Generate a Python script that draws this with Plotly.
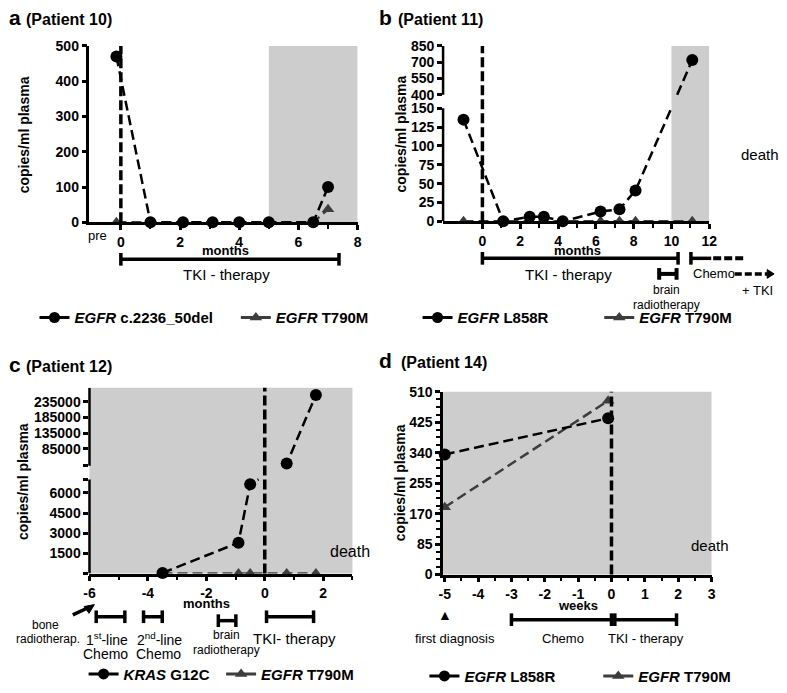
import plotly.graph_objects as go

W, H = 787, 693
FONT = "Liberation Sans, Arial, Helvetica, sans-serif"
GRAY_BG = "#cdcdcd"
SERIES2 = "#3d3d3d"

# ---------------- data ----------------
a_months = [-0.15, 1, 2.1, 3.1, 4, 5, 6.5, 7]
a_del = [470, 0, 0, 0, 0, 0, 0, 100]
a_t790m = [0, 0, 0, 0, 0, 0, 0, 37]

b_months = [-1, 1.1, 2.5, 3.25, 4.25, 6.25, 7.25, 8.1, 11.1]
b_l858r = [135, 0, 6, 6, 0, 13, 16, 41, 720]
b_t790m = [0, 0, 0, 0, 0, 0, 0, 0, 0]

c_months = [-3.5, -0.9, -0.5, 0.75, 1.75]
c_kras = [50, 2300, 6650, 37000, 257000]
c_t790m = [0, 0, 0, 0, 0]

d_weeks = [-5, -0.1]
d_l858r = [335, 436]
d_t790m = [188, 485]

a_xticks = [0, 2, 4, 6, 8]
b_xticks = [0, 2, 4, 6, 8, 10, 12]
c_xticks = [-6, -4, -2, 0, 2]
d_xticks = [-5, -4, -3, -2, -1, 0, 1, 2, 3]
a_yticks = [0, 100, 200, 300, 400, 500]
b_yticks_low = [0, 25, 50, 75, 100, 125, 150]
b_yticks_high = [400, 550, 700, 850]
c_yticks_low = [1500, 3000, 4500, 6000]
c_yticks_high = [85000, 135000, 185000, 235000]
d_yticks = [0, 85, 170, 255, 340, 425, 510]

# treatment periods
a_tki = (0, 7.37)
b_tki = (0, 10.35)
b_brain = (9.35, 10.27)
b_chemo_start = 11.03
c_chemo1 = (-5.77, -4.79)
c_chemo2 = (-4.15, -3.51)
c_brain = (-1.59, -0.99)
c_tki = (0.06, 1.67)
d_chemo = (-3, 0)
d_tki = (0.1, 1.95)

# ---------------- geometry ----------------
PANEL = {
    'a': dict(ax='', x0=85, x1=358, y0=39, y1=220, xr=(-1.06, 8)),
    'b': dict(ax='2', x0=445, x1=716, y0=39, y1=219, xr=(-2.08, 12)),
    'c': dict(ax='3', x0=85, x1=352.7, y0=390, y1=580.7, xr=(-6, 3)),
    'd': dict(ax='4', x0=445, x1=718.3, y0=394, y1=581.7, xr=(-5.05, 3)),
}


def xpx(p, v):
    g = PANEL[p]
    return g['x0'] + (v - g['xr'][0]) / (g['xr'][1] - g['xr'][0]) * (g['x1'] - g['x0'])


def brk(v, lo, hi, f_lo, f_hi):
    if v <= lo[1]:
        return f_lo * (v - lo[0]) / (lo[1] - lo[0])
    return f_hi + (1 - f_hi) * (v - hi[0]) / (hi[1] - hi[0])


def split_gap(xs, ds, f_lo, f_hi):
    """Break a polyline where it crosses the axis break."""
    ox, oy = [xs[0]], [ds[0]]
    for i in range(1, len(xs)):
        x0, y0, x1, y1 = xs[i - 1], ds[i - 1], xs[i], ds[i]
        if (y0 <= f_lo and y1 >= f_hi) or (y0 >= f_hi and y1 <= f_lo):
            a, b = (f_lo, f_hi) if y1 > y0 else (f_hi, f_lo)
            ox += [x0 + (a - y0) * (x1 - x0) / (y1 - y0), None,
                   x0 + (b - y0) * (x1 - x0) / (y1 - y0)]
            oy += [a, None, b]
        ox.append(x1)
        oy.append(y1)
    return ox, oy


B_BRK = dict(lo=(0, 150), hi=(400, 850), f_lo=116 / 180, f_hi=130 / 180)
C_BRK = dict(lo=(0, 7000), hi=(30000, 280000), f_lo=96.7 / 190.7, f_hi=110.7 / 190.7)

fig = go.Figure()

LINE1 = dict(color='black', width=2.5, dash='10px,5px')
LINE2 = dict(color=SERIES2, width=2.5, dash='10px,5px')
MK1 = dict(symbol='circle', size=12, color='black')
MK2 = dict(symbol='triangle-up', size=11, color=SERIES2)


def add_series(xs, ys, ax, line, mk, brkd=None):
    lx, ly = (xs, ys) if brkd is None else split_gap(xs, ys, brkd['f_lo'], brkd['f_hi'])
    fig.add_trace(go.Scatter(x=lx, y=ly, mode='lines', line=line, connectgaps=False,
                             xaxis='x' + ax, yaxis='y' + ax, showlegend=False,
                             cliponaxis=False, hoverinfo='skip'))
    fig.add_trace(go.Scatter(x=xs, y=ys, mode='markers', marker=mk,
                             xaxis='x' + ax, yaxis='y' + ax, showlegend=False,
                             cliponaxis=False, hoverinfo='skip'))


add_series(a_months, a_t790m, '', LINE2, MK2)
add_series(a_months, a_del, '', LINE1, MK1)
add_series(b_months, [brk(v, **B_BRK) for v in b_t790m], '2', LINE2, MK2, B_BRK)
add_series(b_months, [brk(v, **B_BRK) for v in b_l858r], '2', LINE1, MK1, B_BRK)
add_series(c_months, [brk(v, **C_BRK) for v in c_t790m], '3', LINE2, MK2, C_BRK)
add_series(c_months, [brk(v, **C_BRK) for v in c_kras], '3', LINE1, MK1, C_BRK)
add_series(d_weeks, d_t790m, '4', LINE2, MK2)
add_series(d_weeks, d_l858r, '4', LINE1, MK1)

# legends (one per entry)
legend_specs = [
    ('legend', 73, 318, '<i>EGFR</i> c.2236_50del', 'circle', 'black', ''),
    ('legend2', 278, 318, '<i>EGFR</i> T790M', 'triangle-up', SERIES2, ''),
    ('legend3', 463, 318, '<i>EGFR</i> L858R', 'circle', 'black', '2'),
    ('legend4', 648, 318, '<i>EGFR</i> T790M', 'triangle-up', SERIES2, '2'),
    ('legend5', 123, 684, '<i>KRAS</i> G12C', 'circle', 'black', '3'),
    ('legend6', 263, 684, '<i>EGFR</i> T790M', 'triangle-up', SERIES2, '3'),
    ('legend7', 470, 686, '<i>EGFR</i> L858R', 'circle', 'black', '4'),
    ('legend8', 647, 686, '<i>EGFR</i> T790M', 'triangle-up', SERIES2, '4'),
]
legend_layout = {}
for lid, tx, ty, name, sym, col, ax in legend_specs:
    fig.add_trace(go.Scatter(x=[None], y=[None], mode='lines+markers', name='<b>%s</b>' % name,
                             line=dict(color=col, width=3),
                             marker=dict(symbol=sym, size=11, color=col),
                             xaxis='x' + ax, yaxis='y' + ax, legend=lid, showlegend=True))
    legend_layout[lid] = dict(x=(tx - 44) / W, y=1 - ty / H, xanchor='left', yanchor='middle',
                              orientation='h', bgcolor='rgba(0,0,0,0)', borderwidth=0,
                              itemwidth=30,
                              font=dict(family=FONT, size=15, color='black'))


def btxt(vals):
    return ['<b>%s</b>' % str(v) if v != '' else '' for v in vals]


TICKFONT = dict(family=FONT, size=14, color='black')
COMMON = dict(ticks='outside', ticklen=5, tickwidth=2.5, tickcolor='black', tickfont=TICKFONT,
              showgrid=False, zeroline=False, fixedrange=True)

layout_axes = {}
for p, g in PANEL.items():
    ax = g['ax']
    layout_axes['xaxis' + ax] = dict(domain=[g['x0'] / W, g['x1'] / W], range=list(g['xr']),
                                     anchor='y' + ax, showline=True, linewidth=2.5,
                                     linecolor='black', **COMMON)
    layout_axes['yaxis' + ax] = dict(domain=[1 - g['y1'] / H, 1 - g['y0'] / H],
                                     anchor='x' + ax, **COMMON)

MINOR = dict(ticks='outside', ticklen=4, tickwidth=2, tickcolor='black')
layout_axes['xaxis'].update(tickvals=a_xticks, ticktext=btxt(a_xticks),
                            minor=dict(tickvals=[1, 3, 5, 7], **MINOR))
layout_axes['xaxis2'].update(tickvals=b_xticks, ticktext=btxt(b_xticks),
                             minor=dict(tickvals=[1, 3, 5, 7, 9, 11], **MINOR))
layout_axes['xaxis3'].update(tickvals=c_xticks, ticktext=btxt(c_xticks),
                             minor=dict(tickvals=[-5, -3, -1, 1, 3], **MINOR))
layout_axes['xaxis4'].update(tickvals=d_xticks, ticktext=btxt(d_xticks),
                             minor=dict(dtick=0.5, tick0=0, **MINOR))

layout_axes['yaxis'].update(range=[0, 500], tickvals=a_yticks, ticktext=btxt(a_yticks),
                            showline=True, linewidth=2.5, linecolor='black')
layout_axes['yaxis4'].update(range=[0, 510], tickvals=d_yticks, ticktext=btxt(d_yticks),
                             showline=True, linewidth=2.5, linecolor='black',
                             minor=dict(dtick=21.25, tick0=0, **MINOR))
b_tv = b_yticks_low + b_yticks_high
layout_axes['yaxis2'].update(range=[0, 1], showline=False,
                             tickvals=[brk(v, **B_BRK) for v in b_tv], ticktext=btxt(b_tv))
c_tv = [0] + c_yticks_low + [C_BRK['lo'][1], C_BRK['hi'][0]] + c_yticks_high
c_tt = [''] + c_yticks_low + ['', ''] + c_yticks_high
layout_axes['yaxis3'].update(range=[0, 1], showline=False,
                             tickvals=[brk(v, **C_BRK) for v in c_tv], ticktext=btxt(c_tt))

shapes = []
annotations = []

# shaded regions
shapes.append(dict(type='rect', xref='x', yref='y', x0=5, x1=8, y0=0, y1=500,
                   fillcolor=GRAY_BG, line=dict(width=0), layer='below'))
shapes.append(dict(type='rect', xref='x2', yref='y2 domain', x0=10, x1=12, y0=0, y1=1,
                   fillcolor=GRAY_BG, line=dict(width=0), layer='below'))
shapes.append(dict(type='rect', xref='x3 domain', yref='y3 domain', x0=0, x1=1, y0=0, y1=1,
                   fillcolor=GRAY_BG, line=dict(width=0), layer='below'))
shapes.append(dict(type='rect', xref='x4 domain', yref='y4 domain', x0=0, x1=1, y0=0, y1=1,
                   fillcolor=GRAY_BG, line=dict(width=0), layer='below'))

# broken y-axis lines
for ax, brkd in (('2', B_BRK), ('3', C_BRK)):
    for y0, y1 in ((0, brkd['f_lo']), (brkd['f_hi'], 1)):
        shapes.append(dict(type='line', xref='x%s domain' % ax, yref='y' + ax, x0=0, x1=0,
                           y0=y0, y1=y1, line=dict(color='black', width=2.5), layer='above'))

# start-of-TKI dashed lines
for ax in ('', '2', '3', '4'):
    shapes.append(dict(type='line', xref='x' + ax, yref='y%s domain' % ax, x0=0, x1=0, y0=0,
                       y1=1, line=dict(color='black', width=3.5, dash='10px,4px'),
                       layer='above'))


def hline(x0, x1, y, lw=3.5, dash=None):
    ln = dict(color='black', width=lw)
    if dash:
        ln['dash'] = dash
    shapes.append(dict(type='line', xref='paper', yref='paper', x0=x0 / W, x1=x1 / W,
                       y0=1 - y / H, y1=1 - y / H, line=ln))


def seg(x0, y0, x1, y1, lw=3):
    shapes.append(dict(type='line', xref='paper', yref='paper', x0=x0 / W, x1=x1 / W,
                       y0=1 - y0 / H, y1=1 - y1 / H, line=dict(color='black', width=lw)))


def tri(pts):
    path = 'M ' + ' L '.join('%.5f,%.5f' % (x / W, 1 - y / H) for x, y in pts) + ' Z'
    shapes.append(dict(type='path', xref='paper', yref='paper', path=path,
                       fillcolor='black', line=dict(color='black', width=1)))


def vcap(x, y, h=13, lw=3.5):
    shapes.append(dict(type='line', xref='paper', yref='paper', x0=x / W, x1=x / W,
                       y0=1 - (y - h / 2) / H, y1=1 - (y + h / 2) / H,
                       line=dict(color='black', width=lw)))


def tl_bar(p, period, y, cap0=True, cap1=True, lw=3.5, h=13):
    x0, x1 = xpx(p, period[0]), xpx(p, period[1])
    hline(x0, x1, y, lw)
    if cap0:
        vcap(x0, y, h, lw)
    if cap1:
        vcap(x1, y, h, lw)


def txt(x, y, s, size=13, bold=False, xanchor='center', angle=0):
    annotations.append(dict(x=x / W, y=1 - y / H, xref='paper', yref='paper',
                            text='<b>%s</b>' % s if bold else s,
                            showarrow=False, xanchor=xanchor, yanchor='middle', textangle=angle,
                            font=dict(family=FONT, size=size, color='black')))


# titles
txt(1, 10, 'a', 21, True, 'left')
txt(18, 12, '(Patient 10)', 16, True, 'left')
txt(378, 10, 'b', 21, True, 'left')
txt(397, 12, '(Patient 11)', 16, True, 'left')
txt(1, 366, 'c', 21, True, 'left')
txt(18, 368, '(Patient 12)', 16, True, 'left')
txt(378, 362, 'd', 21, True, 'left')
txt(400, 364, '(Patient 14)', 16, True, 'left')

# y titles
for x, y in ((18, 130), (402, 129), (18, 486), (402, 487)):
    txt(x, y, 'copies/ml plasma', 14, True, angle=-90)

# panel a
txt(93, 234, 'pre', 13)
txt(223, 249, 'months', 13, True)
tl_bar('a', a_tki, 258)
txt(224, 274, 'TKI - therapy', 15)

# panel b
txt(582, 249, 'months', 13, True)
tl_bar('b', b_tki, 257)
xs = xpx('b', b_chemo_start)
vcap(xs, 257)
hline(xs, 718, 257)
hline(720, 751, 257, lw=4, dash='8px,3px')
tl_bar('b', b_brain, 273, lw=4, h=12)
txt(573, 274, 'TKI - therapy', 15)
txt(697, 273, 'Chemo', 13, xanchor='left')
hline(742, 775, 273, lw=3.5, dash='7px,3px')
tri([(775, 268.5), (782, 273), (775, 277.5)])
txt(672, 290, 'brain', 12)
txt(672, 305, 'radiotherapy', 12)
txt(765, 290, '+ TKI', 13)
txt(789, 150, 'death', 15, xanchor='right')

# panel c
txt(204, 611, 'months', 13, True)
tl_bar('c', c_chemo1, 625)
tl_bar('c', c_chemo2, 625)
tl_bar('c', c_brain, 629)
tl_bar('c', c_tki, 625)
seg(68, 623, 83, 616, lw=3.5)
tri([(90, 612.5), (79.5, 614.5), (84.5, 621.5)])
txt(40, 633, 'bone', 12)
txt(43, 648, 'radiotherap.', 12)
txt(103, 648, '1<sup>st</sup>-line', 14)
txt(101, 663, 'Chemo', 14)
txt(156, 648, '2<sup>nd</sup>-line', 14)
txt(155, 663, 'Chemo', 14)
txt(225, 644, 'brain', 12)
txt(225, 659, 'radiotherapy', 12)
txt(294, 647, 'TKI- therapy', 15)
txt(350, 558, 'death', 16)

# panel d
txt(582, 613, 'weeks', 13, True)
txt(447, 623, '\u25B2', 14)
txt(457, 647, 'first diagnosis', 13)
tl_bar('d', d_chemo, 628)
tl_bar('d', d_tki, 628)
txt(567, 647, 'Chemo', 13)
txt(652, 647, 'TKI - therapy', 13)
txt(717, 552, 'death', 15)

fig.update_layout(width=W, height=H, margin=dict(l=0, r=0, t=0, b=0),
                  paper_bgcolor='white', plot_bgcolor='white',
                  font=dict(family=FONT, color='black'),
                  shapes=shapes, annotations=annotations, **layout_axes, **legend_layout)

fig.write_html('out.html', config={'displayModeBar': False},
               post_script="document.body.style.margin='0px';")
